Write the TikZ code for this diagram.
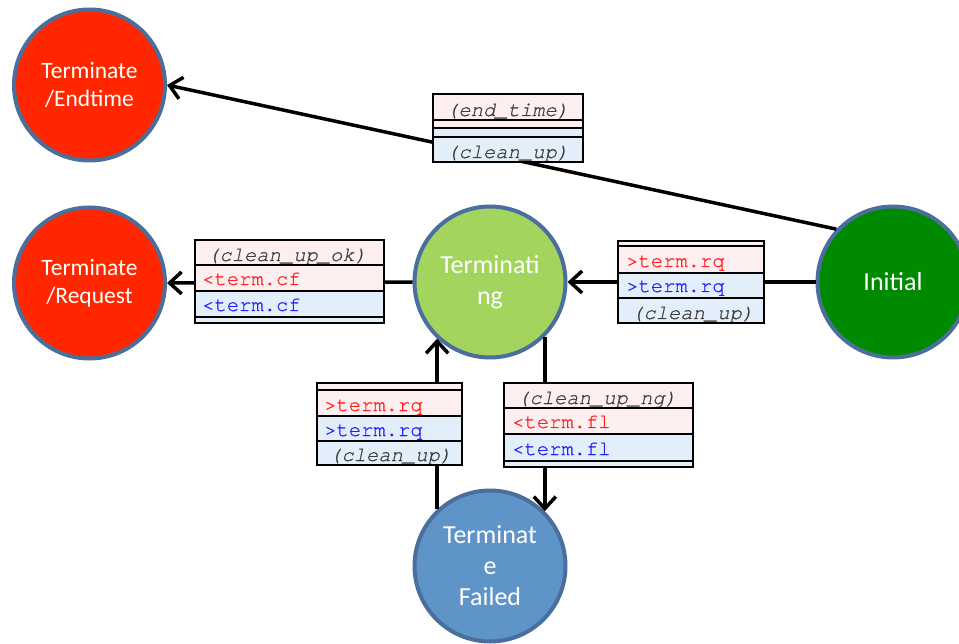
\documentclass[tikz,border=0pt]{standalone}
\usepackage{fontspec}
\setmainfont{Carlito}
\newfontfamily\courfont[FakeBold=0.6,Ligatures=NoCommon]{TeX Gyre Cursor}
\usetikzlibrary{arrows.meta}
\definecolor{redfill}{HTML}{FF2600}
\definecolor{ltgreen}{HTML}{A2D45E}
\definecolor{dkgreen}{HTML}{008A00}
\definecolor{bluefill}{HTML}{5E94C8}
\definecolor{rim}{HTML}{4A6F9C}
\definecolor{pinkrow}{HTML}{FDEFEF}
\definecolor{bluerow}{HTML}{E3EEFB}
\definecolor{txtred}{HTML}{FF1F1F}
\definecolor{txtblue}{HTML}{1F1FFF}
\definecolor{txtgray}{HTML}{3C3C3C}
\begin{document}
\begin{tikzpicture}[x=1pt,y=-1pt,
  state/.style={circle, draw=rim, line width=4pt, minimum size=151pt, inner sep=0pt,
    text=white, align=center, font=\fontsize{26}{31}\selectfont},
  smallstate/.style={state, font=\fontsize{23.5}{28}\selectfont},
  trans/.style={line width=3.5pt, -{Straight Barb[length=12pt,width=22pt]}},
  boxline/.style={line width=2.5pt, draw=black},
  celltext/.style={anchor=base west, inner sep=0pt},
  itx/.style={celltext, text=txtgray, font=\courfont\itshape\fontsize{20.5}{24}\selectfont},
  rtx/.style={celltext, text=txtred, font=\courfont\fontsize{20.5}{24}\selectfont},
  btx/.style={celltext, text=txtblue, font=\courfont\fontsize{20.5}{24}\selectfont}]
\useasboundingbox (0,0) rectangle (959,644);

% states
\node[smallstate, fill=redfill] (endt) at (89.5,85) {Terminate\\/Endtime};
\node[smallstate, fill=redfill] (req) at (89.5,283) {Terminate\\/Request};
\node[state, fill=ltgreen] (tng) at (490,282) {Terminati\\ng};
\node[state, fill=dkgreen] (ini) at (893,282) {Initial};
\node[state, fill=bluefill] (fail) at (490,566) {Terminat\\e\\Failed};

% transitions
\draw[trans] (ini.137) -- (endt.east);
\draw[trans] (ini.west) -- (tng.east);
\draw[trans] (tng.west) -- (req.east);
\draw[trans] (fail.133) -- (tng.227);
\draw[trans] (tng.315) -- (fail.45);

% label box 1
\fill[pinkrow] (433,94) rectangle (583,128);
\fill[bluerow] (433,128) rectangle (583,162);
\node[itx] (b1a) at (446,116) {(end\_time)};
\node[itx] (b1b) at (446,158) {(clean\_up)};
\draw[boxline] (433,94) rectangle (583,162) (433,120) -- (583,120)
  (433,128) -- (583,128) (433,137) -- (583,137);

% label box 2
\fill[pinkrow] (195,240) rectangle (384,291);
\fill[bluerow] (195,291) rectangle (384,323);
\node[itx] (b2a) at (207,261) {(clean\_up\_ok)};
\node[rtx] (b2b) at (202,285) {<term.cf};
\node[btx] (b2c) at (202,311) {<term.cf};
\draw[boxline] (195,240) rectangle (384,323) (195,265) -- (384,265)
  (195,291) -- (384,291) (195,317) -- (384,317);

% label box 3
\fill[pinkrow] (618,241) rectangle (764,273);
\fill[bluerow] (618,273) rectangle (764,323);
\node[rtx] (b3a) at (626,267) {>term.rq};
\node[btx] (b3b) at (626,292) {>term.rq};
\node[itx] (b3c) at (631,319) {(clean\_up)};
\draw[boxline] (618,241) rectangle (764,323) (618,246) -- (764,246)
  (618,273) -- (764,273) (618,298) -- (764,298);

% label box 4
\fill[pinkrow] (317,383) rectangle (462,416);
\fill[bluerow] (317,416) rectangle (462,465);
\node[rtx] (b4a) at (324,411) {>term.rq};
\node[btx] (b4b) at (324,436) {>term.rq};
\node[itx] (b4c) at (329,461) {(clean\_up)};
\draw[boxline] (317,383) rectangle (462,465) (317,390) -- (462,390)
  (317,416) -- (462,416) (317,441) -- (462,441);

% label box 5
\fill[pinkrow] (504,383) rectangle (693,434);
\fill[bluerow] (504,434) rectangle (693,467);
\node[itx] (b5a) at (517,404) {(clean\_up\_ng)};
\node[rtx] (b5b) at (512,428) {<term.f\kern0ptl};
\node[btx] (b5c) at (512,455) {<term.f\kern0ptl};
\draw[boxline] (504,383) rectangle (693,467) (504,408) -- (693,408)
  (504,434) -- (693,434) (504,461) -- (693,461);
\end{tikzpicture}
\end{document}
